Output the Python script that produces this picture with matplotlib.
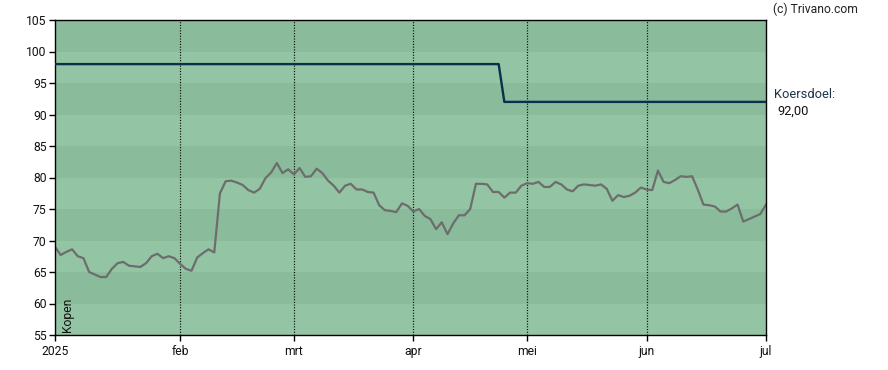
import matplotlib
matplotlib.use("Agg")
import matplotlib.pyplot as plt
import pandas as pd
import numpy as np

plt.rcParams['font.family'] = ['Roboto', 'DejaVu Sans']

# Trading days (Euronext) Jan 2 - Jul 1 2025
holidays = ["2025-04-18", "2025-04-21", "2025-05-01"]
dates = [d for d in pd.bdate_range("2025-01-02", "2025-07-01") if d.strftime("%Y-%m-%d") not in holidays]

prices = [
    69.0, 67.7, 68.2, 68.6, 67.5, 67.2, 65.0, 64.6, 64.2, 64.2,
    65.5, 66.4, 66.6, 66.0, 65.9, 65.8, 66.4, 67.5, 67.9, 67.2,
    67.5, 67.2, 66.3, 65.5, 65.2, 67.3, 68.0, 68.6, 68.1, 77.5,
    79.4, 79.5, 79.2, 78.8, 78.0, 77.6, 78.2, 79.9, 80.8, 82.3,
    80.7, 81.3, 80.5, 81.5, 80.1, 80.2, 81.4, 80.7, 79.5, 78.7,
    77.6, 78.7, 79.0, 78.1, 78.1, 77.7, 77.6, 75.6, 74.8, 74.7,
    74.5, 75.9, 75.5, 74.6, 75.0, 73.9, 73.4, 71.8, 72.9, 71.0,
    72.7, 74.0, 74.0, 75.0, 79.0, 79.0, 78.9, 77.7, 77.7, 76.8,
    77.6, 77.6, 78.7, 79.1, 79.0, 79.3, 78.5, 78.5, 79.3, 78.9,
    78.1, 77.8, 78.7, 78.9, 78.8, 78.7, 78.9, 78.2, 76.3, 77.2,
    76.9, 77.1, 77.6, 78.4, 78.1, 78.0, 81.1, 79.3, 79.1, 79.6,
    80.2, 80.1, 80.2, 78.1, 75.7, 75.6, 75.4, 74.6, 74.6, 75.1,
    75.7, 73.0, 73.4, 73.8, 74.2, 75.7,
]

target_change_date = "2025-04-25"
target_before = 98.0
target_after = 92.0
target_label = "Koersdoel:"
target_value_label = "92,00"

month_labels = ["2025", "feb", "mrt", "apr", "mei", "jun", "jul"]
y_ticks = list(range(55, 106, 5))

n = len(dates)
idx = np.arange(n)
date_str = [d.strftime("%Y-%m-%d") for d in dates]
change_i = date_str.index(target_change_date)
target = [target_before if i < change_i else target_after for i in range(n)]

# month start indices
month_starts = []
prev = None
for i, d in enumerate(dates):
    if d.month != prev:
        month_starts.append(i)
        prev = d.month
month_starts = month_starts[:6] + [n - 1]

fig = plt.figure(figsize=(8.88, 3.70), dpi=100)
ax = fig.add_axes([55/888, 35/370, 711/888, 315/370])

dark = "#8abb9b"
light = "#93c4a4"
for k, lo in enumerate(range(55, 105, 5)):
    ax.axhspan(lo, lo + 5, color=light if k % 2 == 0 else dark, lw=0, zorder=0)

for m in month_starts[1:-1]:
    ax.axvline(m, color="black", ls=(0, (0.9, 1.4)), lw=0.85, zorder=1)

ax.plot(idx, target, color="#0b2f4c", lw=1.7, zorder=3)
ax.plot(idx, prices, color="#6d6d6d", lw=1.6, zorder=2)

ax.set_xlim(0, n - 1)
ax.set_ylim(55, 105)
ax.set_yticks(y_ticks)
ax.set_xticks(month_starts)
ax.set_xticklabels(month_labels)
ax.tick_params(axis="both", labelsize=8.7, length=4, width=1, color="black", labelcolor="#111111", direction="out")
ax.tick_params(axis="x", pad=3)
ax.tick_params(axis="y", pad=2)
for s in ax.spines.values():
    s.set_color("black")
    s.set_linewidth(1)

ax.text(0.008, 0.01, "Kopen", rotation=90, transform=ax.transAxes, fontsize=8.7,
        ha="left", va="bottom", color="#111111")

fig.text(773/888, 1 - 9/370, "(c) Trivano.com", fontsize=8.7, ha="left", va="center", color="#222222")
fig.text(774/888, 1 - 94/370, target_label, fontsize=9.3, ha="left", va="center", color="#1d3447")
fig.text(777/888, 1 - 111/370, target_value_label, fontsize=9.3, ha="left", va="center", color="#111111")

fig.savefig("out.png", dpi=100)
